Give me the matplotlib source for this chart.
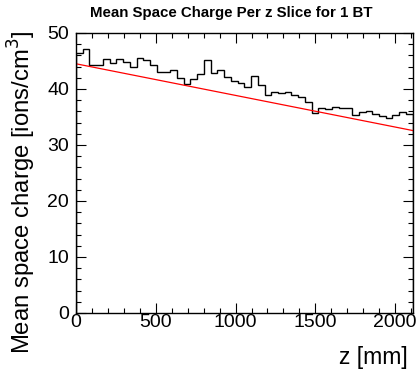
import matplotlib
matplotlib.use('Agg')
import matplotlib.pyplot as plt
from matplotlib.ticker import MultipleLocator
import numpy as np

plt.rcParams['font.family'] = ['Liberation Sans', 'DejaVu Sans']

# -- Data --------------------------------------------------------------
z_min, z_max = 0, 2110
n_bins = 50
charge = [46.4, 47.1, 44.3, 44.3, 45.3, 44.6, 45.3, 44.8, 44.0, 45.6,
          45.2, 44.3, 43.0, 43.0, 43.3, 41.9, 40.9, 41.7, 42.7, 45.1,
          42.8, 43.4, 42.1, 41.5, 41.1, 40.4, 42.3, 40.7, 39.0, 39.5,
          39.2, 39.5, 38.9, 38.6, 37.7, 35.7, 36.6, 36.4, 36.7, 36.6,
          36.6, 35.4, 35.9, 36.1, 35.5, 35.2, 34.8, 35.4, 35.9, 35.5]
fit_p0 = 44.5       # fit intercept
fit_p1 = -0.00565   # fit slope per mm

edges = np.linspace(z_min, z_max, n_bins + 1)

# -- Figure ------------------------------------------------------------
fig = plt.figure(figsize=(4.2, 3.69), dpi=100, facecolor='white')
ax = fig.add_axes([0.181, 0.152, 0.8016, 0.7586])

ax.stairs(charge, edges, color='black', linewidth=1.0)
zz = np.array([z_min, z_max])
ax.plot(zz, fit_p0 + fit_p1 * zz, color='red', linewidth=0.9)

ax.set_xlim(z_min, z_max)
ax.set_ylim(0, 50)
ax.xaxis.set_major_locator(MultipleLocator(500))
ax.xaxis.set_minor_locator(MultipleLocator(100))
ax.yaxis.set_major_locator(MultipleLocator(10))
ax.yaxis.set_minor_locator(MultipleLocator(2))
ax.tick_params(which='both', direction='in', top=True, right=True,
               labelsize=14, width=0.8)
ax.tick_params(which='major', length=7)
ax.tick_params(which='minor', length=3.5)
ax.tick_params(axis='x', pad=1)
ax.tick_params(axis='y', pad=5)
for spine in ax.spines.values():
    spine.set_linewidth(1.0)

fig.text(0.55, 0.965, "Mean Space Charge Per z Slice for 1 BT",
         ha='center', va='center', fontsize=10.8, fontweight='bold')
fig.text(0.052, 0.919, "Mean space charge [ions/cm$^3$]", rotation=90,
         ha='center', va='top', fontsize=17.2)
fig.text(0.971, 0.03, "z [mm]", ha='right', va='center', fontsize=16.5)

plt.savefig("out.png", dpi=100, facecolor='white')
plt.close()
